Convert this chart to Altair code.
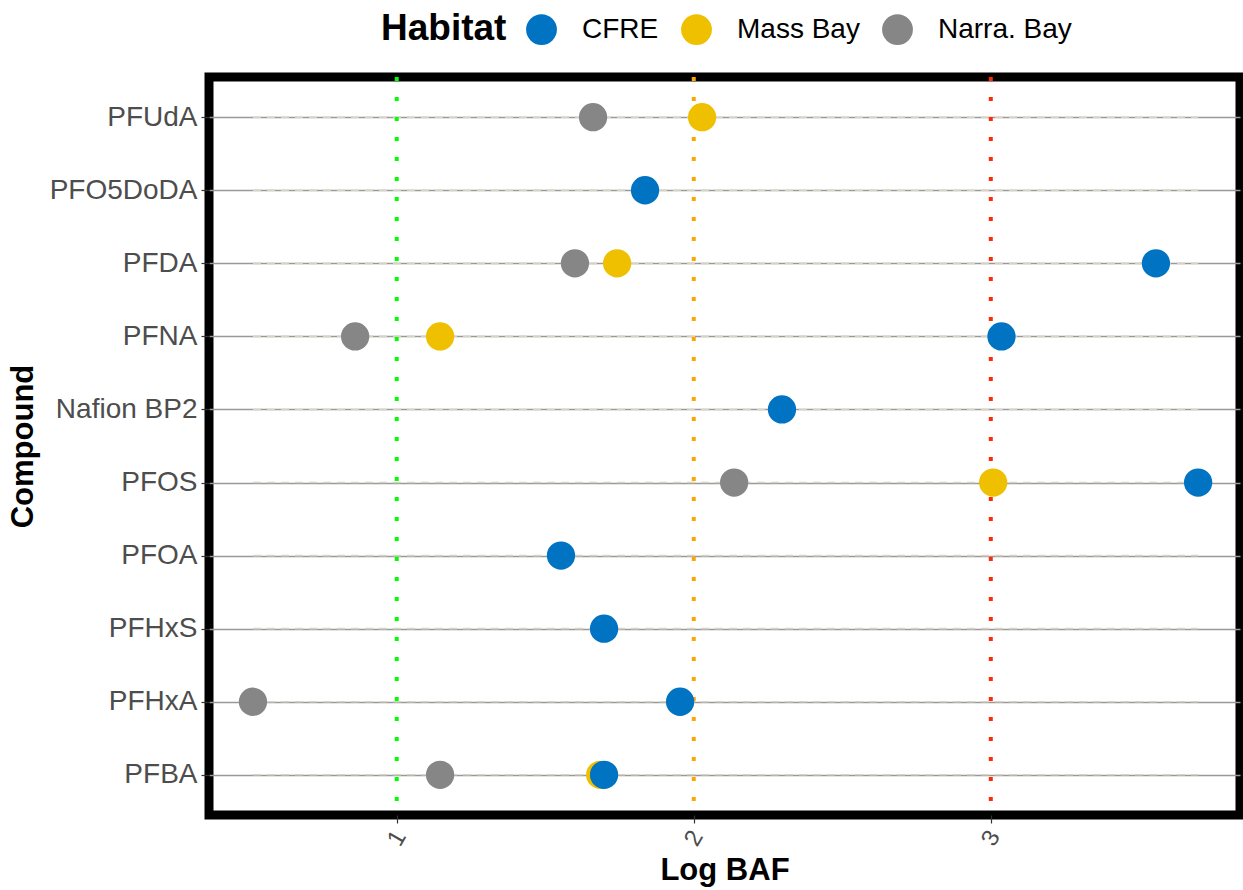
import altair as alt
import pandas as pd

compounds = ["PFUdA", "PFO5DoDA", "PFDA", "PFNA", "Nafion BP2",
             "PFOS", "PFOA", "PFHxS", "PFHxA", "PFBA"]
habitats = ["CFRE", "Mass Bay", "Narra. Bay"]
habitat_colors = ["#0073C2", "#EFC000", "#868686"]

# Narragansett Bay
narra_compounds = ["PFUdA", "PFDA", "PFNA", "PFOS", "PFHxA", "PFBA"]
narra_values = [1.661, 1.600, 0.860, 2.136, 0.516, 1.146]
# Massachusetts Bay
mass_compounds = ["PFUdA", "PFDA", "PFNA", "PFOS", "PFBA"]
mass_values = [2.028, 1.742, 1.146, 3.008, 1.685]
# Cape Fear River Estuary
cfre_compounds = ["PFO5DoDA", "PFDA", "PFNA", "Nafion BP2", "PFOS",
                  "PFOA", "PFHxS", "PFHxA", "PFBA"]
cfre_values = [1.836, 3.556, 3.036, 2.297, 3.698, 1.553, 1.698, 1.954, 1.698]

thresholds = [1, 2, 3]
threshold_colors = ["#00FF00", "#FFA500", "#FF2A00"]

rows = []
for c, v in zip(narra_compounds, narra_values):
    rows.append({"Compound": c, "LogBAF": v, "Habitat": "Narra. Bay"})
for c, v in zip(mass_compounds, mass_values):
    rows.append({"Compound": c, "LogBAF": v, "Habitat": "Mass Bay"})
for c, v in zip(cfre_compounds, cfre_values):
    rows.append({"Compound": c, "LogBAF": v, "Habitat": "CFRE"})
df = pd.DataFrame(rows)
df["ord"] = range(len(df))

all_vals = narra_values + mass_values + cfre_values
seg = pd.DataFrame({"Compound": compounds,
                    "lo": [min(all_vals)] * len(compounds),
                    "hi": [max(all_vals)] * len(compounds)})

FONT = "Liberation Sans"
W, H = 1031, 738

xscale = alt.Scale(domain=[0.368, 3.839], nice=False, zero=False)
yscale = alt.Scale(type="point", padding=0.55, domain=compounds)

x_axis = alt.Axis(values=[1, 2, 3], format="d", title="Log BAF", grid=False,
                  labelAngle=-60, labelAlign="center", labelBaseline="middle",
                  labelPadding=15, labelFontSize=24, labelColor="#4D4D4D",
                  tickSize=8, tickColor="#333333", tickWidth=1.2, domain=False,
                  titleFontSize=31, titleFontWeight="bold", titleColor="black",
                  titlePadding=6, labelFont=FONT, titleFont=FONT)
y_axis = alt.Axis(title="Compound", grid=True, gridColor="#999999", gridWidth=1.3,
                  labelFontSize=28, labelColor="#4D4D4D", labelPadding=4,
                  tickSize=8, tickColor="#333333", tickWidth=1.2, domain=False,
                  titleFontSize=31, titleFontWeight="bold", titleColor="black",
                  titlePadding=10, labelFont=FONT, titleFont=FONT)

base_grid = alt.Chart(seg).mark_rule(strokeDash=[8, 6], strokeWidth=1.6,
                                     color="#D8D2C0").encode(
    x=alt.X("lo:Q", scale=xscale, axis=x_axis),
    x2="hi:Q",
    y=alt.Y("Compound:N", scale=yscale, axis=y_axis, sort=compounds),
)

rule_layers = []
for t, col in zip(thresholds, threshold_colors):
    rule_layers.append(
        alt.Chart(pd.DataFrame({"t": [t]})).mark_rule(
            color=col, strokeWidth=4, strokeDash=[4, 16], strokeCap="butt"
        ).encode(x=alt.X("t:Q", scale=xscale))
    )

points = alt.Chart(df).mark_circle(size=800, opacity=1).encode(
    x=alt.X("LogBAF:Q", scale=xscale),
    y=alt.Y("Compound:N", scale=yscale, sort=compounds),
    color=alt.Color("Habitat:N",
                    scale=alt.Scale(domain=habitats, range=habitat_colors),
                    legend=alt.Legend(orient="none", legendX=172, legendY=-64,
                                      direction="horizontal", titleOrient="left",
                                      title="Habitat", titleFontSize=37,
                                      titleFontWeight="bold", titleColor="black",
                                      titleFont=FONT, titlePadding=18,
                                      titleBaseline="middle",
                                      labelFont=FONT, labelFontSize=28,
                                      labelColor="black", labelOffset=24,
                                      symbolSize=950, symbolType="circle",
                                      symbolOpacity=1, columnPadding=21)),
    order=alt.Order("ord:Q"),
)

chart = alt.layer(base_grid, *rule_layers, points).properties(
    width=W, height=H,
    autosize=alt.AutoSizeParams(type="none"),
    padding={"left": 209, "top": 77, "right": 3, "bottom": 75},
    background="white",
).configure_view(stroke="black", strokeWidth=9)

chart.save("out.html", embed_options={"renderer": "svg", "actions": False})
